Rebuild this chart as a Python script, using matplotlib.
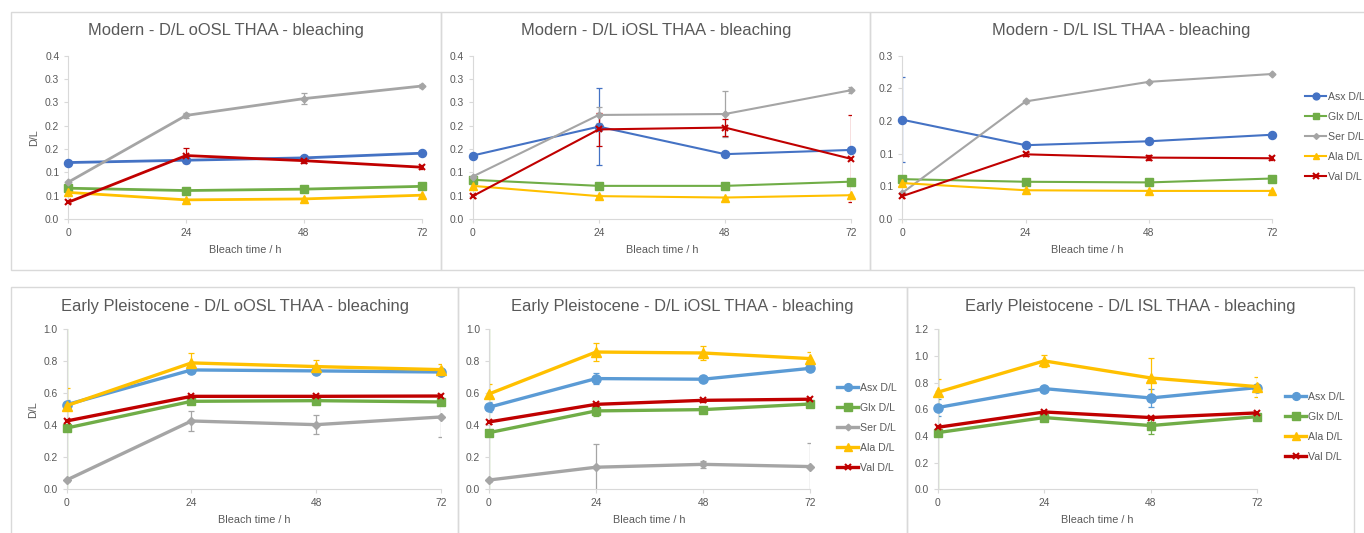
import matplotlib
matplotlib.use("Agg")
import matplotlib.pyplot as plt
from matplotlib.patches import Rectangle

plt.rcParams['font.family'] = ['Liberation Sans', 'DejaVu Sans']

# bleach times (h)
times = [0, 24, 48, 72]
series = ['Asx D/L', 'Glx D/L', 'Ser D/L', 'Ala D/L', 'Val D/L']

# Modern - oOSL
mod_oosl = {
    'Asx D/L': [0.121, 0.126, 0.131, 0.141],
    'Glx D/L': [0.066, 0.061, 0.064, 0.070],
    'Ser D/L': [0.079, 0.222, 0.258, 0.285],
    'Ala D/L': [0.057, 0.041, 0.043, 0.051],
    'Val D/L': [0.036, 0.136, 0.125, 0.111],
}
mod_oosl_err = {
    'Asx D/L': [0.003, 0.004, 0.004, 0.003],
    'Glx D/L': [0.002, 0.003, 0.003, 0.003],
    'Ser D/L': [0.003, 0.006, 0.012, 0.005],
    'Ala D/L': [0.002, 0.002, 0.002, 0.002],
    'Val D/L': [0.002, 0.016, 0.004, 0.004],
}

# Modern - iOSL
mod_iosl = {
    'Asx D/L': [0.136, 0.198, 0.139, 0.148],
    'Glx D/L': [0.084, 0.071, 0.071, 0.080],
    'Ser D/L': [0.091, 0.223, 0.225, 0.276],
    'Ala D/L': [0.071, 0.049, 0.046, 0.051],
    'Val D/L': [0.049, 0.192, 0.196, 0.129],
}
mod_iosl_err = {
    'Asx D/L': [0.003, 0.083, 0.004, 0.004],
    'Glx D/L': [0.002, 0.002, 0.002, 0.002],
    'Ser D/L': [0.003, 0.018, 0.050, 0.006],
    'Ala D/L': [0.002, 0.002, 0.002, 0.002],
    'Val D/L': [0.003, 0.035, 0.019, 0.093],
}

# Modern - ISL
mod_isl = {
    'Asx D/L': [0.152, 0.113, 0.119, 0.129],
    'Glx D/L': [0.061, 0.057, 0.056, 0.062],
    'Ser D/L': [0.040, 0.180, 0.210, 0.222],
    'Ala D/L': [0.055, 0.044, 0.043, 0.043],
    'Val D/L': [0.035, 0.099, 0.094, 0.093],
}
mod_isl_err = {
    'Asx D/L': [0.065, 0.003, 0.003, 0.003],
    'Glx D/L': [0.003, 0.002, 0.002, 0.002],
    'Ser D/L': [0.002, 0.002, 0.002, 0.002],
    'Ala D/L': [0.002, 0.002, 0.002, 0.002],
    'Val D/L': [0.003, 0.003, 0.004, 0.003],
}

# Early Pleistocene - oOSL
ep_oosl = {
    'Asx D/L': [0.529, 0.746, 0.740, 0.733],
    'Glx D/L': [0.383, 0.550, 0.554, 0.546],
    'Ser D/L': [0.058, 0.427, 0.404, 0.452],
    'Ala D/L': [0.523, 0.790, 0.767, 0.748],
    'Val D/L': [0.427, 0.581, 0.581, 0.583],
}
ep_oosl_err = {
    'Asx D/L': [0.030, 0.010, 0.010, 0.010],
    'Glx D/L': [0.650, 0.010, 0.010, 0.010],
    'Ser D/L': [0.010, 0.065, 0.060, 0.125],
    'Ala D/L': [0.110, 0.063, 0.040, 0.035],
    'Val D/L': [0.010, 0.010, 0.010, 0.010],
}

# Early Pleistocene - iOSL
ep_iosl = {
    'Asx D/L': [0.513, 0.692, 0.688, 0.756],
    'Glx D/L': [0.354, 0.490, 0.498, 0.533],
    'Ser D/L': [0.058, 0.138, 0.156, 0.142],
    'Ala D/L': [0.596, 0.858, 0.852, 0.817],
    'Val D/L': [0.421, 0.531, 0.556, 0.563],
}
ep_iosl_err = {
    'Asx D/L': [0.030, 0.036, 0.010, 0.010],
    'Glx D/L': [0.700, 0.030, 0.010, 0.010],
    'Ser D/L': [0.010, 0.144, 0.020, 0.150],
    'Ala D/L': [0.060, 0.055, 0.045, 0.040],
    'Val D/L': [0.010, 0.010, 0.010, 0.010],
}

# Early Pleistocene - ISL (no Ser)
ep_isl = {
    'Asx D/L': [0.613, 0.755, 0.685, 0.763],
    'Glx D/L': [0.425, 0.538, 0.478, 0.545],
    'Ala D/L': [0.728, 0.963, 0.835, 0.770],
    'Val D/L': [0.465, 0.580, 0.538, 0.573],
}
ep_isl_err = {
    'Asx D/L': [0.065, 0.010, 0.064, 0.020],
    'Glx D/L': [0.800, 0.010, 0.065, 0.010],
    'Ala D/L': [0.100, 0.048, 0.150, 0.075],
    'Val D/L': [0.010, 0.010, 0.010, 0.010],
}

mod_yticks = [0, 0.05, 0.10, 0.15, 0.20, 0.25, 0.30, 0.35]
mod_yticklabels = ['0.0', '0.1', '0.1', '0.2', '0.2', '0.3', '0.3', '0.4']
isl_yticks = [0, 0.05, 0.10, 0.15, 0.20, 0.25]
isl_yticklabels = ['0.0', '0.1', '0.1', '0.2', '0.2', '0.3']
ep_yticks = [0, 0.2, 0.4, 0.6, 0.8, 1.0]
ep_yticklabels = ['0.0', '0.2', '0.4', '0.6', '0.8', '1.0']
ep_isl_yticks = [0, 0.2, 0.4, 0.6, 0.8, 1.0, 1.2]
ep_isl_yticklabels = ['0.0', '0.2', '0.4', '0.6', '0.8', '1.0', '1.2']

W, H = 1364, 533
GREY_TXT = '#595959'
FRAME = '#d9d9d9'

mod_colors = {'Asx D/L': '#4472c4', 'Glx D/L': '#70ad47', 'Ser D/L': '#a5a5a5',
              'Ala D/L': '#ffc000', 'Val D/L': '#c00000'}
ep_colors = {'Asx D/L': '#5b9bd5', 'Glx D/L': '#70ad47', 'Ser D/L': '#a5a5a5',
             'Ala D/L': '#ffc000', 'Val D/L': '#c00000'}
# marker shape and relative size
markers = {'Asx D/L': ('o', 1.0), 'Glx D/L': ('s', 0.95), 'Ser D/L': ('D', 0.6),
           'Ala D/L': ('^', 1.0), 'Val D/L': ('x', 0.75)}

fig = plt.figure(figsize=(W / 100, H / 100), dpi=100)


def px_rect(x0, y0, x1, y1):
    return [x0 / W, 1 - y1 / H, (x1 - x0) / W, (y1 - y0) / H]


def frame(x0, y0, x1, y1):
    fig.patches.append(Rectangle((x0 / W, 1 - y1 / H), (x1 - x0) / W, (y1 - y0) / H,
                                 transform=fig.transFigure, fill=False,
                                 edgecolor=FRAME, lw=1, zorder=0))


def panel(box, data, err, colors, lw, msize, yticks, ylabels, title, title_xy,
          ylabel=False, legend_xy=None):
    ax = fig.add_axes(px_rect(*box))
    for name in data:
        c = colors[name]
        m, rel = markers[name]
        ax.errorbar(times, data[name], yerr=err[name], fmt='none', ecolor=c,
                    elinewidth=0.9, capsize=2.5, capthick=0.9, zorder=2)
        ax.plot(times, data[name], color=c, lw=lw, marker=m, ms=msize * rel,
                mew=1.5 if m == 'x' else 1, label=name, clip_on=False, zorder=3)
    ax.set_xlim(0, 72)
    ax.set_ylim(yticks[0], yticks[-1])
    ax.set_xticks(times)
    ax.set_yticks(yticks)
    ax.set_yticklabels(ylabels)
    for s in ['top', 'right']:
        ax.spines[s].set_visible(False)
    for s in ['left', 'bottom']:
        ax.spines[s].set_color(FRAME)
    ax.tick_params(colors=GREY_TXT, labelsize=7.4, length=3, width=0.8)
    ax.tick_params(axis='both', color=FRAME)
    ax.set_xlabel('Bleach time / h', color=GREY_TXT, fontsize=7.8, labelpad=5)
    if ylabel:
        ax.set_ylabel('D/L', color=GREY_TXT, fontsize=7.8, labelpad=4)
    fig.text(title_xy[0] / W, 1 - title_xy[1] / H, title, ha='center', va='center',
             fontsize=11.9, color=GREY_TXT)
    if legend_xy is not None:
        ax.legend(loc='center left', bbox_to_anchor=(legend_xy[0] / W, 1 - legend_xy[1] / H),
                  bbox_transform=fig.transFigure, frameon=False, fontsize=7.6,
                  labelcolor=GREY_TXT, handlelength=2.0, handletextpad=0.15,
                  labelspacing=0.95, borderpad=0, markerscale=0.85)
    return ax


# panel borders
frame(11, 12, 441, 270)
frame(441, 12, 870, 270)
frame(870, 12, 1380, 270)
frame(11, 287, 458, 545)
frame(458, 287, 907, 545)
frame(907, 287, 1354, 545)

panel((68.3, 55.7, 421.7, 219), mod_oosl, mod_oosl_err, mod_colors, 2.0, 5.8,
      mod_yticks, mod_yticklabels, 'Modern - D/L oOSL THAA - bleaching', (226, 31), ylabel=True)
panel((472.7, 55.7, 851, 219), mod_iosl, mod_iosl_err, mod_colors, 1.5, 5.8,
      mod_yticks, mod_yticklabels, 'Modern - D/L iOSL THAA - bleaching', (656, 31))
panel((902.3, 55.7, 1272.3, 219), mod_isl, mod_isl_err, mod_colors, 1.5, 5.8,
      isl_yticks, isl_yticklabels, 'Modern - D/L ISL THAA - bleaching', (1121, 31),
      legend_xy=(1300, 137))

panel((66.7, 329.3, 441, 489.3), ep_oosl, ep_oosl_err, ep_colors, 2.4, 6.6,
      ep_yticks, ep_yticklabels, 'Early Pleistocene - D/L oOSL THAA - bleaching', (235, 306),
      ylabel=True)
panel((489, 329.3, 810, 489.3), ep_iosl, ep_iosl_err, ep_colors, 2.4, 6.6,
      ep_yticks, ep_yticklabels, 'Early Pleistocene - D/L iOSL THAA - bleaching', (682, 306),
      legend_xy=(832, 428))
panel((937.7, 329.3, 1257.3, 489.3), ep_isl, ep_isl_err, ep_colors, 2.4, 6.6,
      ep_isl_yticks, ep_isl_yticklabels, 'Early Pleistocene - D/L ISL THAA - bleaching', (1130, 306),
      legend_xy=(1280, 427))

fig.savefig('out.png', dpi=100, facecolor='white')
